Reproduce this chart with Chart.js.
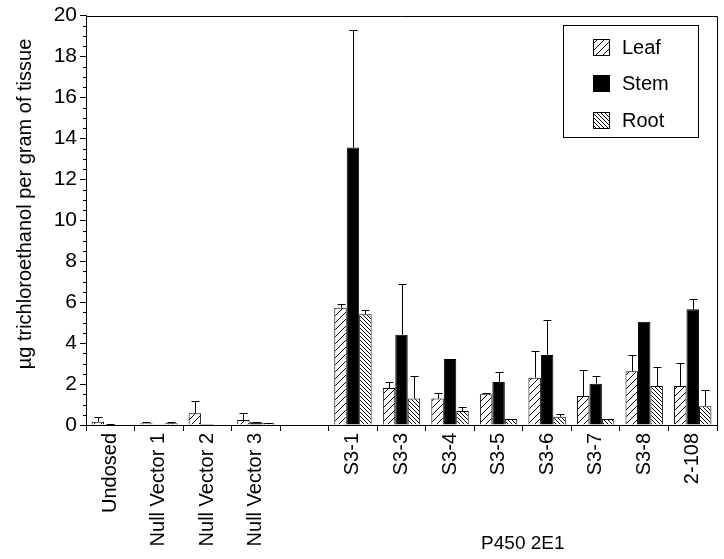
<!DOCTYPE html>
<html><head><meta charset="utf-8">
<script src="https://cdn.jsdelivr.net/npm/chart.js@4/dist/chart.umd.min.js"></script>
<style>html,body{margin:0;padding:0;background:#fff}</style>
</head><body>
<canvas id="c" width="724" height="559"></canvas>
<script>
const categories = ["Undosed","Null Vector 1","Null Vector 2","Null Vector 3","","S3-1","S3-3","S3-4","S3-5","S3-6","S3-7","S3-8","2-108"];
const leaf    = [0.16, 0.09, 0.57, 0.25, null, 5.73, 1.81, 1.29, 1.50, 2.31, 1.42, 2.62, 1.90];
const leafErr = [0.21, 0.07, 0.60, 0.32, null, 0.19, 0.29, 0.29, 0.08, 1.32, 1.29, 0.80, 1.12];
const stem    = [0.02, 0.04, 0.05, 0.13, null, 13.56, 4.41, 3.23, 2.10, 3.42, 2.02, 5.05, 5.65];
const stemErr = [0.04, 0.00, 0.00, 0.04, null, 5.73, 2.50, 0.00, 0.48, 1.70, 0.37, 0.00, 0.49];
const root    = [0.00, 0.08, 0.00, 0.08, null, 5.41, 1.29, 0.69, 0.29, 0.40, 0.29, 1.90, 0.92];
const rootErr = [0.00, 0.07, 0.00, 0.04, null, 0.19, 1.08, 0.20, 0.00, 0.12, 0.00, 0.92, 0.77];
const seriesNames = ["Leaf","Stem","Root"];
const groupLabel = "P450 2E1";
const groupFirst = 5, groupLast = 12;
const yTitle = "\u00b5g trichloroethanol per gram of tissue";

const FONT = "'Liberation Sans', Arial, sans-serif";

function hatch(s, dir, lw) {
  const c = document.createElement('canvas');
  c.width = s; c.height = s;
  const g = c.getContext('2d');
  g.fillStyle = '#fff'; g.fillRect(0,0,s,s);
  g.strokeStyle = '#000'; g.lineWidth = lw;
  g.beginPath();
  for (const o of [-s, 0, s]) {
    if (dir === '/') { g.moveTo(o, s); g.lineTo(o + s, 0); }
    else { g.moveTo(o, 0); g.lineTo(o + s, s); }
  }
  g.stroke();
  return g.createPattern(c, 'repeat');
}
const leafPat = hatch(7, '/', 1);
const rootPat = hatch(4, '\\', 1);

const errorBars = {
  id: 'errorBars',
  afterDatasetsDraw(chart) {
    const ctx = chart.ctx, y = chart.scales.y;
    ctx.save();
    ctx.strokeStyle = '#000'; ctx.lineWidth = 1;
    chart.data.datasets.forEach((ds, i) => {
      const meta = chart.getDatasetMeta(i);
      meta.data.forEach((el, j) => {
        const e = ds.errors[j], v = ds.data[j];
        if (v == null || !e) return;
        const x = Math.round(el.x) + 0.5;
        const y0 = y.getPixelForValue(v);
        const y1 = Math.round(y.getPixelForValue(v + e)) + 0.5;
        ctx.beginPath();
        ctx.moveTo(x, y0); ctx.lineTo(x, y1);
        ctx.moveTo(x - 4, y1); ctx.lineTo(x + 4, y1);
        ctx.stroke();
      });
    });
    ctx.restore();
  }
};

const extras = {
  id: 'extras',
  afterDraw(chart) {
    const ctx = chart.ctx, a = chart.chartArea, y = chart.scales.y, x = chart.scales.x;
    ctx.save();
    ctx.strokeStyle = '#000'; ctx.lineWidth = 1;
    // frame top & right
    ctx.beginPath();
    ctx.moveTo(a.left, Math.round(a.top) + 0.5);
    ctx.lineTo(Math.round(a.right) + 0.5, Math.round(a.top) + 0.5);
    ctx.lineTo(Math.round(a.right) + 0.5, a.bottom);
    ctx.stroke();
    // minor ticks
    ctx.beginPath();
    for (let v = 0.5; v < 20; v += 0.5) {
      if (v % 2 === 0) continue;
      const py = Math.round(y.getPixelForValue(v)) + 0.5;
      ctx.moveTo(a.left - 3, py); ctx.lineTo(a.left, py);
    }
    ctx.stroke();
    // y title
    ctx.fillStyle = '#000';
    ctx.save();
    ctx.translate(25, 204);
    ctx.rotate(-Math.PI / 2);
    ctx.font = "20px " + FONT;
    ctx.textAlign = 'center'; ctx.textBaseline = 'middle';
    ctx.fillText(yTitle, 0, 0);
    ctx.restore();
    // group label
    ctx.font = "19px " + FONT;
    ctx.textAlign = 'center'; ctx.textBaseline = 'middle';
    const gx = (x.getPixelForValue(groupFirst) + x.getPixelForValue(groupLast)) / 2;
    ctx.fillText(groupLabel, gx, 544);
    // legend
    ctx.strokeRect(563.5, 25.5, 135, 112);
    const rows = [47, 83, 120];
    chart.data.datasets.forEach((ds, i) => {
      const ry = rows[i];
      ctx.fillStyle = ds.backgroundColor;
      ctx.fillRect(593, ry - 8, 17, 17);
      ctx.strokeRect(593.5, ry - 7.5, 16, 16);
      ctx.fillStyle = '#000';
      ctx.font = "20px " + FONT;
      ctx.textAlign = 'left';
      ctx.fillText(ds.label, 622, ry + 1);
    });
    ctx.restore();
  }
};

new Chart(document.getElementById('c'), {
  type: 'bar',
  data: {
    labels: categories,
    datasets: [
      { label: seriesNames[0], data: leaf, errors: leafErr, backgroundColor: leafPat, borderColor: '#000', borderWidth: 1 },
      { label: seriesNames[1], data: stem, errors: stemErr, backgroundColor: '#000', borderColor: '#000', borderWidth: 1 },
      { label: seriesNames[2], data: root, errors: rootErr, backgroundColor: rootPat, borderColor: '#000', borderWidth: 1 }
    ]
  },
  options: {
    responsive: false,
    animation: false,
    devicePixelRatio: 1,
    layout: { padding: { top: 12, right: 7, left: 0, bottom: 0 } },
    datasets: { bar: { categoryPercentage: 0.77, barPercentage: 1.0 } },
    plugins: { legend: { display: false }, tooltip: { enabled: false } },
    scales: {
      x: {
        grid: { drawOnChartArea: false, offset: true, tickLength: 6, color: '#000' },
        border: { color: '#000', width: 1 },
        ticks: { autoSkip: false, maxRotation: 90, minRotation: 90, padding: 2, color: '#000', font: { family: FONT, size: 20 } },
        afterFit(s) { s.height = 134; }
      },
      y: {
        min: 0, max: 20,
        grid: { drawOnChartArea: false, tickLength: 6, color: '#000' },
        border: { color: '#000', width: 1 },
        ticks: { stepSize: 2, padding: 3, color: '#000', font: { family: FONT, size: 21 } },
        afterFit(s) { s.width = 86; }
      }
    }
  },
  plugins: [errorBars, extras]
});
</script>
</body></html>
